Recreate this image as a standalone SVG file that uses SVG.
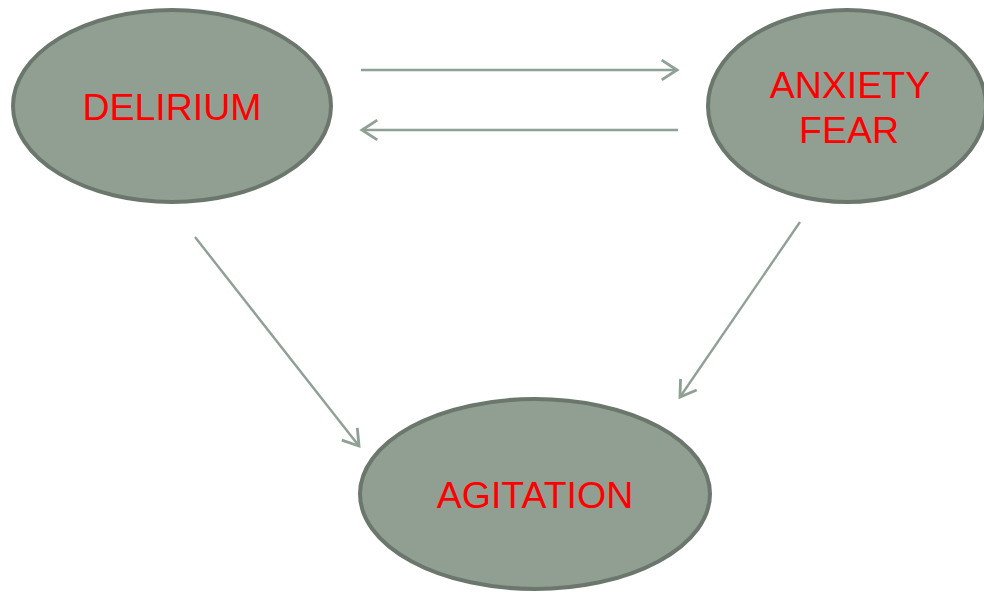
<svg xmlns="http://www.w3.org/2000/svg" width="984" height="592" viewBox="0 0 984 592">
<style>
.node{fill:#919f93;stroke:#6b776d;stroke-width:4}
.lbl{font-family:"Liberation Sans",Arial,sans-serif;font-size:37.5px;fill:#ff0000;text-anchor:middle}
.conn{stroke:#8fa095;stroke-width:2.4;fill:none;marker-end:url(#ah)}
</style>
<defs>
<marker id="ah" markerUnits="userSpaceOnUse" markerWidth="20" markerHeight="24" viewBox="-15 -11 17 22" refX="0" refY="0" orient="auto">
<path d="M-14,-9 L0,0 L-14,9" fill="none" stroke="#8fa095" stroke-width="2.6"/>
</marker>
</defs>
<rect width="984" height="592" fill="#ffffff"/>
<g id="connectors">
<line class="conn" x1="361" y1="70" x2="677" y2="70"/>
<line class="conn" x1="678" y1="130" x2="362" y2="130"/>
<line class="conn" x1="195" y1="237" x2="359" y2="446"/>
<line class="conn" x1="800" y1="222" x2="680" y2="397"/>
</g>
<g id="delirium">
<ellipse class="node" cx="172" cy="106" rx="159" ry="96"/>
<text class="lbl" x="172" y="120">DELIRIUM</text>
</g>
<g id="anxiety-fear">
<ellipse class="node" cx="847" cy="106" rx="139" ry="96"/>
<text class="lbl" x="850" y="98">ANXIETY</text>
<text class="lbl" x="849" y="143">FEAR</text>
</g>
<g id="agitation">
<ellipse class="node" cx="535" cy="494" rx="175" ry="95"/>
<text class="lbl" x="535" y="508">AGITATION</text>
</g>
</svg>
